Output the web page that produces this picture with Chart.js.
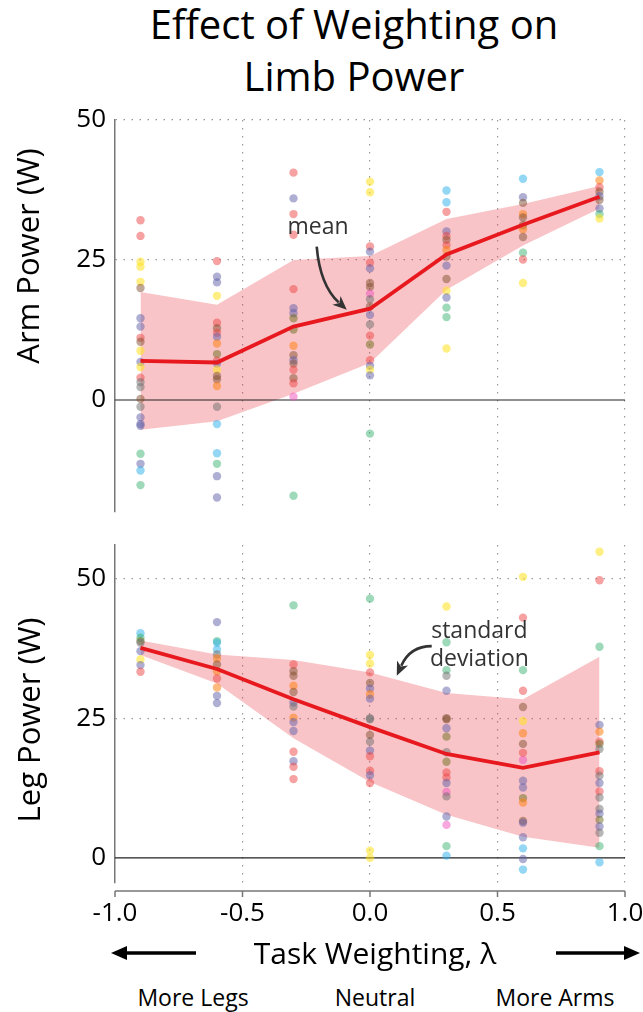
<!DOCTYPE html>
<html>
<head>
<meta charset="utf-8">
<script src="https://cdn.jsdelivr.net/npm/chart.js@4.4.1/dist/chart.umd.min.js"></script>
<style>
body { margin: 0; background: #fff; }
#page { position: relative; width: 643px; height: 1012px; overflow: hidden; font-family: "Open Sans", sans-serif; color: #000; }
#page canvas { position: absolute; left: 0; }
.txt { position: absolute; white-space: nowrap; text-align: center; }
.ylab { width: 300px; height: 40px; line-height: 40px; font-size: 31px; transform: rotate(-90deg); }
.sub { width: 200px; height: 40px; line-height: 40px; font-size: 23px; top: 977px; }
</style>
</head>
<body>
<div id="page">
  <div class="txt" style="left:0; width:708px; top:-2px; font-size:40px; line-height:52px;">Effect of Weighting on<br>Limb Power</div>

  <canvas id="armChart" width="643" height="420" style="top:100px"></canvas>
  <canvas id="legChart" width="643" height="410" style="top:525px"></canvas>

  <div class="txt ylab" style="left:-123px; top:236px;">Arm Power (W)</div>
  <div class="txt ylab" style="left:-122px; top:700px;">Leg Power (W)</div>

  <div class="txt" style="left:175px; width:400px; top:933px; height:40px; line-height:40px; font-size:30px;">Task Weighting, λ</div>
  <svg style="position:absolute; left:0; top:940px" width="643" height="26">
    <line x1="196" y1="13" x2="124" y2="13" stroke="#000" stroke-width="3.5"/>
    <polygon points="111,13 127,6 127,20" fill="#000"/>
    <line x1="556" y1="13" x2="627" y2="13" stroke="#000" stroke-width="3.5"/>
    <polygon points="640,13 624,6 624,20" fill="#000"/>
  </svg>
  <div class="txt sub" style="left:93px;">More Legs</div>
  <div class="txt sub" style="left:275px;">Neutral</div>
  <div class="txt sub" style="left:455px;">More Arms</div>
</div>

<script>
// ---- data ----
var lambdas = [-0.9, -0.6, -0.3, 0.0, 0.3, 0.6, 0.9];
var xTicks = [-1.0, -0.5, 0.0, 0.5, 1.0];
var yTicks = [0, 25, 50];

var armMean  = [7.0, 6.7, 13.1, 16.3, 26.0, 31.3, 36.3];
var armUpper = [19.3, 17.0, 25.0, 25.7, 32.3, 35.0, 38.2];
var armLower = [-5.3, -3.8, 1.1, 6.6, 19.7, 27.6, 34.2];

var legMean  = [37.6, 33.8, 28.4, 23.4, 18.6, 16.1, 18.9];
var legUpper = [38.9, 36.4, 35.4, 33.2, 29.5, 28.4, 36.0];
var legLower = [36.3, 31.2, 21.4, 13.6, 7.7, 3.8, 1.8];

// individual subjects, one list per lambda (same order as lambdas)
var armPoints = [
    [32.1, 29.3, 24.7, 23.8, 21.1, 20, 14.6, 13.1, 11.1, 10.4, 8.8, 6.8, 5.9, 4.0, 3.2, 2.3, 0.2, -1.2, -3.1, -4.3, -4.6, -9.6, -11.4, -12.6, -15.2],
    [24.8, 22, 21, 18.6, 13.8, 12.8, 12, 11.3, 10.1, 8.2, 7, 6.5, 5.4, 4.3, 3.7, 2.5, -1.2, -4.3, -9.5, -11.4, -13.6, -17.4],
    [40.6, 36, 33.2, 29.5, 19.8, 16.4, 15.5, 14.6, 12.6, 9.7, 8.0, 7.1, 6.5, 5.4, 3.9, 3.0, 0.6, -17.1],
    [39, 37.1, 27.4, 26.5, 24.5, 23.5, 20.9, 20.2, 19, 18, 16.7, 15.2, 13.5, 11.5, 9.9, 7.1, 6.1, 5.4, 4.4, -6.0],
    [37.4, 35.3, 33.6, 30.1, 29.3, 28.6, 27.7, 26.8, 25.6, 24, 21.6, 19.5, 18.3, 16.5, 14.8, 9.2],
    [39.5, 36.2, 35.2, 33.2, 32.6, 31.2, 30.5, 29.1, 26.3, 25.1, 20.9],
    [40.7, 39.2, 38, 37.2, 36.4, 35.7, 34.2, 33.2, 32.4]
];
var armColors = [
    "rryyybpprbypyraabapppgpcg",
    "rppyrbrpovrpybboaccgpp",
    "rprrrppvvobpbrbrmg",
    "yyrprpbbmabparvrpypg",
    "ccrprbrobpbypggy",
    "cpbobbobgry",
    "corbpbpgy"
];

var legPoints = [
    [40.2, 39.4, 38.8, 38.5, 37, 35.5, 34.5, 33.3],
    [42.2, 38.8, 38.5, 37.3, 36.4, 35.7, 34.6, 33.4, 32.1, 30.5, 29, 27.7],
    [45.2, 34.6, 33.4, 32.6, 30.8, 29.7, 27.8, 27.1, 25.1, 24.3, 22.7, 19, 17.3, 16.3, 14.1],
    [46.4, 36.3, 34.8, 33.2, 31.3, 30.3, 29.3, 28.5, 25, 24.8, 22, 20.8, 19.2, 18.2, 15.6, 14.8, 13.4, 1.3, 0],
    [45, 38.6, 33.6, 32.6, 29.9, 25, 24.8, 23.2, 21.7, 18.9, 17.2, 15.3, 14.4, 13.4, 11.8, 11, 7.4, 5.9, 2.1, 0.4],
    [50.3, 43, 33.6, 29.9, 27, 24.5, 22.3, 20.4, 18.8, 17.5, 13.8, 12.6, 10.7, 9.9, 6.6, 6.3, 3.7, 1.7, -0.2, -2.1],
    [54.8, 49.7, 37.8, 23.8, 22.6, 20.8, 20.4, 19.5, 15.5, 14.7, 13.4, 11.9, 10.8, 8.75, 7.9, 6.8, 5.6, 4.5, 2.1, -0.8]
];
var legColors = [
    "cgvapypr",
    "pgccaoboropp",
    "grbbobpaopprprr",
    "gyyrbpopaabaprrpryy",
    "yggapbbpvavrrpmapmgc",
    "yrgrbyobrmppvobppcpc",
    "yrgporvarapraapvpagcc"
];

var palette = {
    r: "rgba(238, 70, 70, 0.5)",
    y: "rgba(255, 226, 30, 0.55)",
    p: "rgba(95, 95, 170, 0.5)",
    c: "rgba(40, 175, 235, 0.5)",
    g: "rgba(40, 170, 100, 0.45)",
    o: "rgba(255, 130, 20, 0.55)",
    b: "rgba(130, 80, 50, 0.5)",
    a: "rgba(110, 110, 110, 0.5)",
    v: "rgba(110, 110, 30, 0.5)",
    m: "rgba(240, 80, 190, 0.5)"
};

var FONT = "'Open Sans', sans-serif";

// ---- plugins ----
// offset x spine below the plot (seaborn despine look)
var xSpinePlugin = {
    id: "xSpine",
    afterDraw: function(chart, args, opts) {
        if (!opts.show) return;
        var xs = chart.scales.x;
        var ctx = chart.ctx;
        var y = chart.chartArea.bottom + opts.offset;
        ctx.save();
        ctx.strokeStyle = "#777";
        ctx.lineWidth = 1.5;
        ctx.beginPath();
        ctx.moveTo(xs.left, y);
        ctx.lineTo(xs.right, y);
        for (var i = 0; i < xs.ticks.length; i++) {
            var px = xs.getPixelForValue(xs.ticks[i].value);
            ctx.moveTo(px, y);
            ctx.lineTo(px, y + opts.tick);
        }
        ctx.stroke();
        ctx.restore();
    }
};

// text + curved arrow annotations, positioned in data coordinates
var notesPlugin = {
    id: "notes",
    afterDatasetsDraw: function(chart, args, opts) {
        if (!opts.items) return;
        var xs = chart.scales.x, ys = chart.scales.y, ctx = chart.ctx;
        function px(p) { return [xs.getPixelForValue(p[0]), ys.getPixelForValue(p[1])]; }
        ctx.save();
        opts.items.forEach(function(n) {
            ctx.fillStyle = "#333";
            ctx.font = "23px " + FONT;
            ctx.textAlign = "center";
            ctx.textBaseline = "alphabetic";
            for (var i = 0; i < n.lines.length; i++) {
                ctx.fillText(n.lines[i], xs.getPixelForValue(n.at[0]), ys.getPixelForValue(n.at[1] - i * n.gap));
            }
            var a = px(n.from), c = px(n.ctrl), b = px(n.to);
            var ang = Math.atan2(b[1] - c[1], b[0] - c[0]);
            var len = 14, half = 6;
            var bx = b[0] - Math.cos(ang) * len, by = b[1] - Math.sin(ang) * len;
            ctx.strokeStyle = "#333";
            ctx.lineWidth = 2.6;
            ctx.beginPath();
            ctx.moveTo(a[0], a[1]);
            ctx.quadraticCurveTo(c[0], c[1], bx + Math.cos(ang) * 3, by + Math.sin(ang) * 3);
            ctx.stroke();
            ctx.beginPath();
            ctx.moveTo(b[0], b[1]);
            ctx.lineTo(bx - Math.sin(ang) * half, by + Math.cos(ang) * half);
            ctx.lineTo(bx + Math.cos(ang) * 4, by + Math.sin(ang) * 4);
            ctx.lineTo(bx + Math.sin(ang) * half, by - Math.cos(ang) * half);
            ctx.closePath();
            ctx.fill();
        });
        ctx.restore();
    }
};

function pairs(ys) {
    return lambdas.map(function(x, i) { return { x: x, y: ys[i] }; });
}

function buildDatasets(mean, upper, lower, points, colors) {
    var ds = [];
    ds.push({ data: pairs(upper), showLine: true, borderWidth: 0, pointRadius: 0, fill: false, order: 6 });
    ds.push({ data: pairs(lower), showLine: true, borderWidth: 0, pointRadius: 0, fill: "-1",
              backgroundColor: "rgba(235, 60, 70, 0.3)", order: 6 });
    ds.push({ data: [{ x: -1, y: 0 }, { x: 1, y: 0 }], showLine: true, borderColor: "#222",
              borderWidth: 1.2, pointRadius: 0, order: 5 });
    for (var i = 0; i < lambdas.length; i++) {
        var pts = points[i].map(function(v) { return { x: lambdas[i], y: v }; });
        var cols = colors[i].split("").map(function(k) { return palette[k]; });
        ds.push({ data: pts, pointRadius: 4.2, pointBorderWidth: 0, pointBackgroundColor: cols, order: 3 });
    }
    ds.push({ data: pairs(mean), showLine: true, borderColor: "#e8191e", borderWidth: 3.8,
              pointRadius: 0, fill: false, order: 1 });
    return ds;
}

function makePanel(canvasId, cfg) {
    return new Chart(document.getElementById(canvasId), {
        type: "scatter",
        data: { datasets: cfg.datasets },
        options: {
            responsive: false,
            animation: false,
            events: [],
            layout: { padding: { top: 20, right: 18, left: 0, bottom: 0 } },
            plugins: {
                legend: { display: false },
                tooltip: { enabled: false },
                xSpine: { show: cfg.showX, offset: 8, tick: 6 },
                notes: { items: cfg.notes }
            },
            scales: {
                x: {
                    type: "linear", min: -1, max: 1,
                    afterBuildTicks: function(s) { s.ticks = xTicks.map(function(v) { return { value: v }; }); },
                    afterFit: function(s) { s.height = cfg.xHeight; s.paddingLeft = 0; s.paddingRight = 0; },
                    ticks: {
                        display: cfg.showX, padding: 15, color: "#000",
                        font: { family: FONT, size: 26 },
                        callback: function(v) { return v.toFixed(1); }
                    },
                    grid: {
                        drawTicks: false, lineWidth: 1.2,
                        color: function(c) { return c.tick && c.tick.value === -1 ? "rgba(0,0,0,0)" : "#999"; }
                    },
                    border: { display: false, dash: [1.5, 6.5] }
                },
                y: {
                    min: cfg.yMin, max: cfg.yMax,
                    afterBuildTicks: function(s) { s.ticks = yTicks.map(function(v) { return { value: v }; }); },
                    afterFit: function(s) { s.width = 115; s.paddingTop = 0; s.paddingBottom = 0; },
                    ticks: { padding: 9, color: "#000", font: { family: FONT, size: 26 } },
                    grid: {
                        drawTicks: false, lineWidth: 1.2,
                        color: function(c) { return c.tick && c.tick.value > 0 ? "#999" : "rgba(0,0,0,0)"; }
                    },
                    border: { display: true, color: "#777", width: 1.5, dash: [1.5, 6.5] }
                }
            }
        },
        plugins: [xSpinePlugin, notesPlugin]
    });
}

makePanel("armChart", {
    datasets: buildDatasets(armMean, armUpper, armLower, armPoints, armColors),
    yMin: -20, yMax: 50, xHeight: 8, showX: false,
    notes: [{ lines: ["mean"], at: [-0.204, 29.6], gap: 5,
              from: [-0.209, 27.4], ctrl: [-0.196, 20.5], to: [-0.091, 16.1] }]
});

makePanel("legChart", {
    datasets: buildDatasets(legMean, legUpper, legLower, legPoints, legColors),
    yMin: -4.5, yMax: 56, xHeight: 52, showX: true,
    notes: [{ lines: ["standard", "deviation"], at: [0.429, 39.4], gap: 5.1,
              from: [0.242, 37.9], ctrl: [0.157, 37.9], to: [0.105, 32.6] }]
});
</script>
</body>
</html>
